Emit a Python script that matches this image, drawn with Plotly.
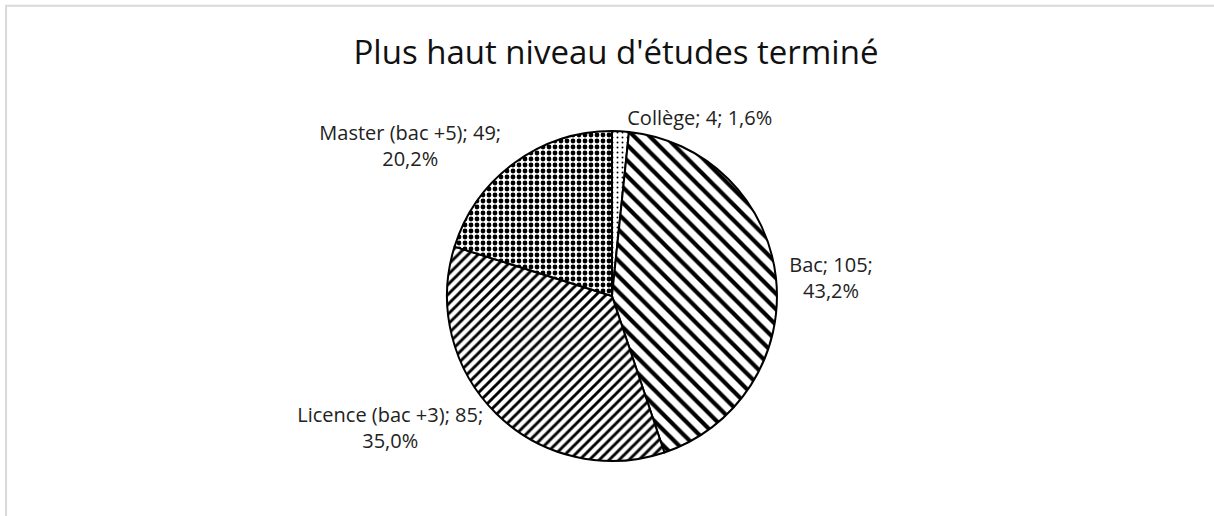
import plotly.graph_objects as go

# niveaux d'études
niveaux = ["Collège", "Bac", "Licence (bac +3)", "Master (bac +5)"]
effectifs = [4, 105, 85, 49]
motifs = [".", "\\", "/", "."]
tailles = [5, 11, 7, 6]
solidites = [0.12, 0.38, 0.42, 0.5]
modeles = [
    "%{label}; %{value}; %{percent:.1%}",
    "%{label}; %{value};<br>%{percent:.1%}",
    "<br>%{label}; %{value};<br>%{percent:.1%}",
    "%{label}; %{value};<br>%{percent:.1%}",
]

police = "Open Sans"

fig = go.Figure(go.Pie(
    labels=niveaux,
    values=effectifs,
    sort=False,
    direction="clockwise",
    rotation=0,
    texttemplate=modeles,
    textposition="outside",
    textfont=dict(family=police, size=20, color="#222222"),
    marker=dict(
        colors=["white"] * 4,
        line=dict(color="black", width=2),
        pattern=dict(shape=motifs, size=tailles, solidity=solidites,
                     fgcolor="black", bgcolor="white", fillmode="replace"),
    ),
    domain=dict(x=[0.3682, 0.64], y=[0.1066, 0.7461]),
    hoverinfo="skip",
    showlegend=False,
))

fig.update_layout(
    width=1214, height=516,
    margin=dict(l=0, r=0, t=0, b=0),
    paper_bgcolor="white",
    separators=", ",
    title=dict(text="Plus haut niveau d'études terminé", x=0.5074, y=0.899,
               xanchor="center", yanchor="middle",
               font=dict(family=police, size=33, color="#111111")),
    shapes=[dict(type="rect", xref="paper", yref="paper",
                 x0=0.005, x1=1.05, y0=-0.05, y1=0.989,
                 line=dict(color="#d9d9d9", width=2), fillcolor="rgba(0,0,0,0)")],
)

# page sans marge pour que la figure touche le bord
fig.write_html("out.html", config={"displayModeBar": False},
               post_script="document.body.style.margin='0';")
